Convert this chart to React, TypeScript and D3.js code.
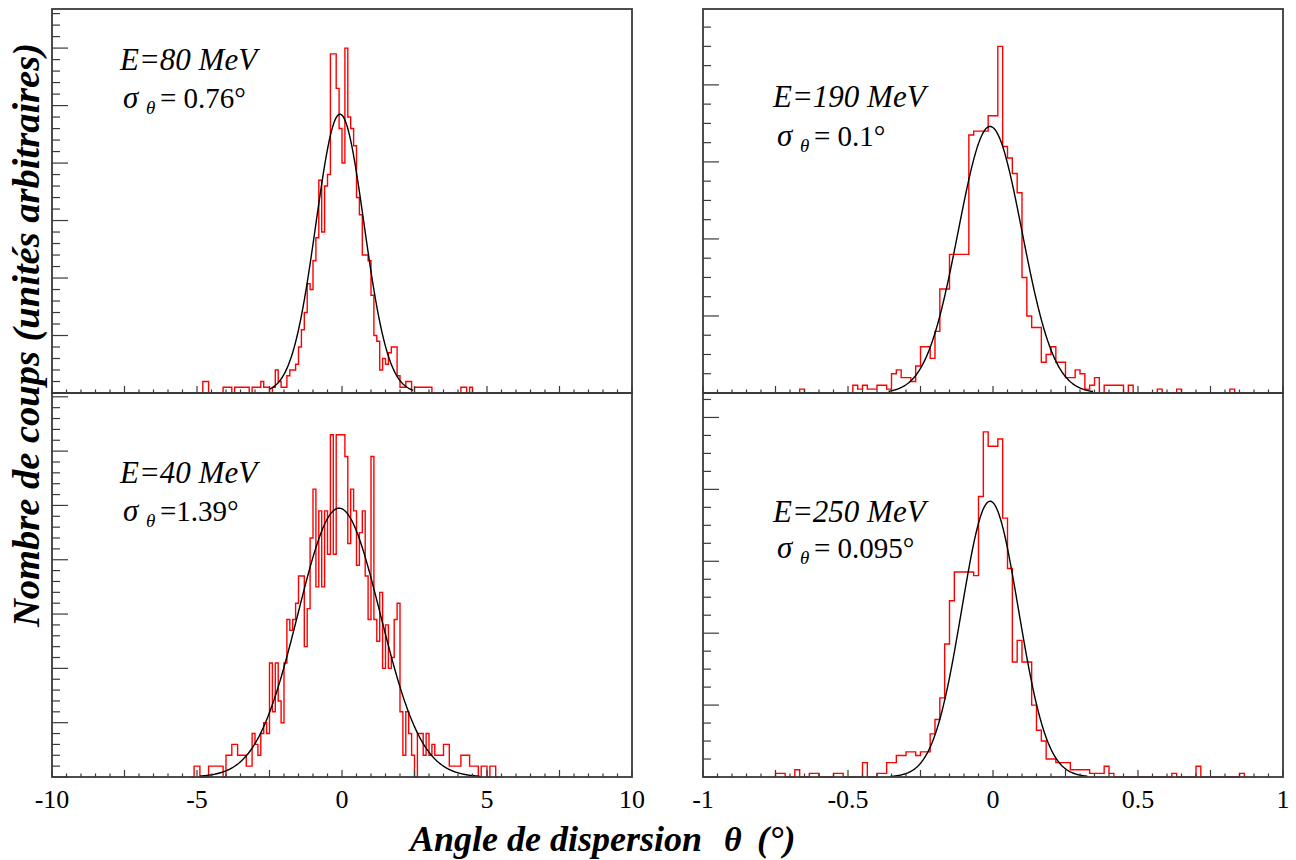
import React from "react";
import * as d3 from "d3";

// ---------------- data ----------------
const leftTickValues = [-10, -5, 0, 5, 10];
const leftTickLabels = ["-10", "-5", "0", "5", "10"];
const rightTickValues = [-1, -0.5, 0, 0.5, 1];
const rightTickLabels = ["-1", "-0.5", "0", "0.5", "1"];

const energyLabels = ["E=80 MeV", "E=190 MeV", "E=40 MeV", "E=250 MeV"];
const sigmaLabels = ["= 0.76°", "= 0.1°", "=1.39°", "= 0.095°"];

// E = 80 MeV (bins of 0.1°, first bin starts at -5.0°)
const e80BinStart = -5.0;
const e80BinWidth = 0.1;
const e80Counts = [
  0, 0, 2, 2, 0, 0, 0, 0, 0, 1,
  1, 1, 0, 1, 1, 1, 1, 1, 0, 1,
  1, 1, 2, 1, 1, 0, 1, 4, 2, 1,
  1, 3, 4, 4, 5, 8, 11, 14, 19, 18,
  23, 27, 37, 28, 36, 38, 59, 59, 53, 46,
  40, 60, 48, 46, 43, 34, 31, 24, 24, 23,
  17, 10, 9, 4, 6, 5, 7, 8, 8, 3,
  1, 1, 2, 2, 0, 1, 1, 1, 1, 1,
  1, 0, 0, 0, 0, 0, 0, 0, 0, 0,
  0, 1, 1, 0, 1, 0,
];

// E = 190 MeV (bins of 1/60°, first bin starts at -40/60°)
const e190BinStart = -40 / 60;
const e190BinWidth = 1 / 60;
const e190Counts = [
  1,
  0, 0, 0, 0, 0, 0, 0, 0, 0, 0,
  2, 1, 2, 1, 1, 2, 2, 1, 5, 6,
  4, 4, 3, 7, 12, 12, 9, 16, 27, 27,
  36, 36, 36, 36, 67, 68, 68, 68, 72, 72,
  90, 64, 61, 57, 52, 30, 20, 17, 17, 8,
  10, 12, 8, 8, 4, 4, 6, 5, 1, 2,
  4, 0, 2, 2, 2, 2, 0, 2, 0, 0,
  0, 0, 0, 1, 0, 0, 0, 1,
  0, 0, 0, 0, 0, 0, 0, 0, 0, 0,
  1,
];

// E = 40 MeV (bins of 0.1°, first bin starts at -5.2°)
const e40BinStart = -5.2;
const e40BinWidth = 0.1;
const e40Counts = [
  0, 2, 2, 0, 0, 0, 2, 2, 2, 2,
  2, 0, 4, 4, 6, 6, 4, 4, 4, 2,
  2, 8, 6, 4, 8, 10, 8, 21, 12, 21,
  14, 10, 21, 29, 27, 29, 32, 37, 37, 24,
  31, 44, 53, 35, 49, 35, 49, 41, 63, 41,
  63, 63, 63, 59, 43, 53, 49, 39, 45, 49,
  37, 29, 59, 29, 25, 34, 20, 28, 20, 22,
  29, 32, 12, 4, 12, 8, 4, 0, 8, 8,
  4, 8, 4, 6, 4, 4, 4, 6, 6, 2,
  2, 2, 2, 4, 4, 4, 2, 2, 2, 0,
  2, 2, 0, 2, 2, 0,
];

// E = 250 MeV (bins of 1/60°, first bin starts at -45/60°)
const e250BinStart = -45 / 60;
const e250BinWidth = 1 / 60;
const e250Counts = [
  1, 1, 0, 0, 2, 0, 0, 1, 1, 0,
  0, 0, 1, 1, 0, 0, 0, 0, 4, 0,
  0, 1, 1, 4, 4, 6, 6, 7, 7, 6,
  7, 7, 12, 16, 22, 37, 49, 57, 57, 57,
  57, 56, 78, 96, 92, 92, 94, 72, 58, 32,
  38, 32, 32, 20, 13, 10, 5, 5, 4, 4,
  4, 2, 2, 2, 2, 1, 1, 1, 3, 1,
  0, 0, 0, 0, 0, 0, 0, 0, 0, 0, 0, 0,
  1, 0, 0, 0, 0, 3,
  0, 0, 0, 0, 0, 0, 0, 0,
  1,
];

// Gaussian fits: [80, 190, 40, 250 MeV]
const fitAmplitude = [48.5, 69.2, 49.5, 76.7];
const fitMean = [-0.07, -0.01, -0.1, -0.01];
const fitSigma = [0.83, 0.11, 1.42, 0.098];
const fitLow = [-2.5, -0.36, -4.9, -0.355];
const fitHigh = [2.45, 0.345, 4.75, 0.325];

// ---------------- layout ----------------
const FONT = "Liberation Serif";
const FRAME = "#3a3a3a";

type Cfg = {
  left: number; top: number; width: number; height: number;
  xDomain: [number, number]; xMinor: number; xMajor: number;
  tickValues: number[] | null; tickLabels: string[] | null;
  yTop: number; yMinor: number; yMajor: number;
  binStart: number; binWidth: number; counts: number[];
  fitIndex: number;
  eLabel: string; sLabel: string;
  eX: number; eY: number; sX: number; sY: number;
};

const panels: Cfg[] = [
  {
    left: 52, top: 9, width: 580, height: 384, xDomain: [-10, 10], xMinor: 0.5, xMajor: 2.5,
    tickValues: null, tickLabels: null, yTop: 66.8, yMinor: 2, yMajor: 10,
    binStart: e80BinStart, binWidth: e80BinWidth, counts: e80Counts, fitIndex: 0,
    eLabel: energyLabels[0], sLabel: sigmaLabels[0], eX: 120, eY: 70, sX: 123, sY: 108,
  },
  {
    left: 703, top: 9, width: 580, height: 384, xDomain: [-1, 1], xMinor: 0.05, xMajor: 0.25,
    tickValues: null, tickLabels: null, yTop: 99.7, yMinor: 5, yMajor: 20,
    binStart: e190BinStart, binWidth: e190BinWidth, counts: e190Counts, fitIndex: 1,
    eLabel: energyLabels[1], sLabel: sigmaLabels[1], eX: 773, eY: 107, sX: 777, sY: 146,
  },
  {
    left: 52, top: 393, width: 580, height: 384, xDomain: [-10, 10], xMinor: 0.5, xMajor: 2.5,
    tickValues: leftTickValues, tickLabels: leftTickLabels, yTop: 70.7, yMinor: 2, yMajor: 10,
    binStart: e40BinStart, binWidth: e40BinWidth, counts: e40Counts, fitIndex: 2,
    eLabel: energyLabels[2], sLabel: sigmaLabels[2], eX: 120, eY: 483, sX: 123, sY: 521,
  },
  {
    left: 703, top: 393, width: 580, height: 384, xDomain: [-1, 1], xMinor: 0.05, xMajor: 0.25,
    tickValues: rightTickValues, tickLabels: rightTickLabels, yTop: 106.8, yMinor: 5, yMajor: 20,
    binStart: e250BinStart, binWidth: e250BinWidth, counts: e250Counts, fitIndex: 3,
    eLabel: energyLabels[3], sLabel: sigmaLabels[3], eX: 773, eY: 522, sX: 777, sY: 558,
  },
];

function isMultiple(v: number, step: number) {
  const r = Math.abs(v / step - Math.round(v / step));
  return r < 1e-6;
}

function Panel({ cfg }: { cfg: Cfg }) {
  const x = d3.scaleLinear().domain(cfg.xDomain).range([cfg.left, cfg.left + cfg.width]);
  const y = d3.scaleLinear().domain([0, cfg.yTop]).range([cfg.top + cfg.height, cfg.top]);
  const y0 = y(0);

  // histogram outline
  const pts: [number, number][] = [];
  cfg.counts.forEach((c, i) => {
    const a = cfg.binStart + i * cfg.binWidth;
    const b = a + cfg.binWidth;
    if (i === 0) pts.push([a, 0]);
    pts.push([a, c]);
    pts.push([b, c]);
    if (i === cfg.counts.length - 1) pts.push([b, 0]);
  });
  const line = d3.line<[number, number]>().x((d) => x(d[0])).y((d) => y(d[1]));
  const histPath = line(pts) || "";

  // gaussian fit
  const k = cfg.fitIndex;
  const lo = fitLow[k], hi = fitHigh[k];
  const n = 300;
  const fitPts: [number, number][] = d3.range(n + 1).map((i) => {
    const t = lo + ((hi - lo) * i) / n;
    const z = (t - fitMean[k]) / fitSigma[k];
    return [t, fitAmplitude[k] * Math.exp(-0.5 * z * z)];
  });
  const fitPath = line(fitPts) || "";

  const nx = Math.round((cfg.xDomain[1] - cfg.xDomain[0]) / cfg.xMinor);
  const xTicks = d3.range(nx + 1).map((i) => cfg.xDomain[0] + i * cfg.xMinor);
  const ny = Math.floor(cfg.yTop / cfg.yMinor + 1e-6);
  const yTicks = d3.range(ny + 1).map((i) => i * cfg.yMinor);

  return (
    <g>
      <path d={histPath} fill="none" stroke="#ff0000" strokeWidth={1.4} strokeLinejoin="miter" />
      <path d={fitPath} fill="none" stroke="#000" strokeWidth={1.4} />
      {/* frame */}
      <rect x={cfg.left} y={cfg.top} width={cfg.width} height={cfg.height} fill="none" stroke={FRAME} strokeWidth={1.8} />
      {/* x ticks */}
      {xTicks.map((t, i) => {
        const len = isMultiple(t, cfg.xMajor) ? 7 : 3.5;
        return <line key={"xt" + i} x1={x(t)} x2={x(t)} y1={y0} y2={y0 - len} stroke={FRAME} strokeWidth={1.2} />;
      })}
      {/* y ticks */}
      {yTicks.map((t, i) => {
        const len = isMultiple(t, cfg.yMajor) ? 16 : 8;
        return <line key={"yt" + i} x1={cfg.left} x2={cfg.left + len} y1={y(t)} y2={y(t)} stroke={FRAME} strokeWidth={1.2} />;
      })}
      {/* tick labels */}
      {cfg.tickValues &&
        cfg.tickValues.map((v, i) => (
          <text key={"tl" + i} x={x(v)} y={y0 + 31} textAnchor="middle" fontFamily={FONT} fontSize={26} fill="#000">
            {cfg.tickLabels ? cfg.tickLabels[i] : ""}
          </text>
        ))}
      {/* annotations */}
      <text x={cfg.eX} y={cfg.eY} fontFamily={FONT} fontStyle="italic" fontSize={31} fill="#000">
        {cfg.eLabel}
      </text>
      <text x={cfg.sX} y={cfg.sY} fontFamily={FONT} fontStyle="italic" fontSize={31} fill="#000">
        σ
      </text>
      <text x={cfg.sX + 23} y={cfg.sY + 6} fontFamily={FONT} fontStyle="italic" fontSize={19} fill="#000">
        θ
      </text>
      <text x={cfg.sX + 37} y={cfg.sY} fontFamily={FONT} fontSize={29} fill="#000" style={{ whiteSpace: "pre" }}>
        {cfg.sLabel}
      </text>
    </g>
  );
}

export default function App() {
  return (
    <svg
      width={1296}
      height={860}
      viewBox="0 0 1296 860"
      style={{ position: "absolute", left: 0, top: 0, background: "#fff" }}
    >
      <rect x={0} y={0} width={1296} height={860} fill="#fff" />
      {panels.map((p, i) => (
        <Panel key={i} cfg={p} />
      ))}
      <text
        transform="translate(39,335) rotate(-90)"
        textAnchor="middle"
        fontFamily={FONT}
        fontStyle="italic"
        fontWeight="bold"
        fontSize={38.5}
        fill="#000"
      >
        Nombre de coups (unités arbitraires)
      </text>
      <text x={410} y={851} fontFamily={FONT} fontStyle="italic" fontWeight="bold" fontSize={36} fill="#000">
        Angle de dispersion
      </text>
      <text x={724} y={851} fontFamily={FONT} fontStyle="italic" fontWeight="bold" fontSize={34} fill="#000">
        θ
      </text>
      <text x={757} y={851} fontFamily={FONT} fontStyle="italic" fontWeight="bold" fontSize={36} fill="#000">
        (°)
      </text>
    </svg>
  );
}
